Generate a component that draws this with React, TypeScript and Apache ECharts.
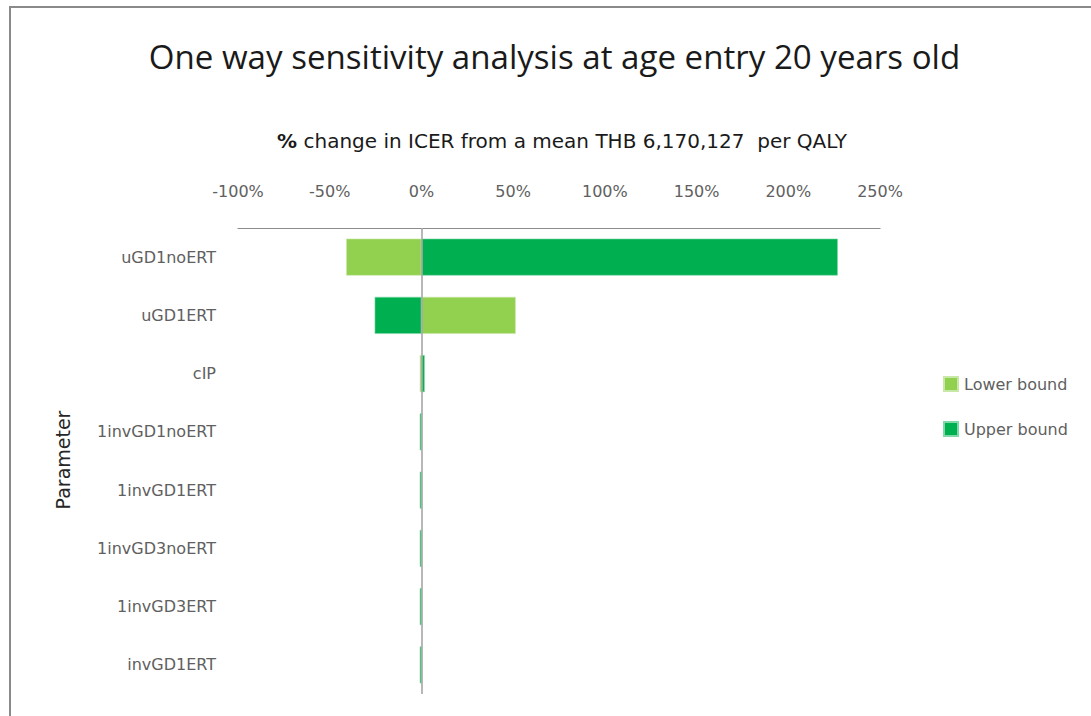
import React, { useEffect, useRef } from "react";
import * as echarts from "echarts";

// Parameters, top row first
const parameters = [
  "uGD1noERT",
  "uGD1ERT",
  "cIP",
  "1invGD1noERT",
  "1invGD1ERT",
  "1invGD3noERT",
  "1invGD3ERT",
  "invGD1ERT",
];

// % change in ICER at each parameter's bounds
const lowerBound = [-41, 51.4, -0.9, 0.3, 0.3, 0.3, 0.3, 0.3];
const upperBound = [227, -25.5, 1.8, -0.9, -0.9, -0.9, -0.9, -0.9];

const xTicks = { min: -100, max: 250, interval: 50 };

const TITLE_FONT = "'Open Sans', 'Noto Sans', sans-serif";
const FONT = "'DejaVu Sans', 'Noto Sans', sans-serif";
const LABEL_GREY = "#606060";

export default function App() {
  const ref = useRef<HTMLDivElement>(null);

  useEffect(() => {
    if (!ref.current) return;
    const chart = echarts.init(ref.current, null, { renderer: "svg" });
    chart.setOption({
      animation: false,
      backgroundColor: "#ffffff",
      title: [
        {
          text: "One way sensitivity analysis at age entry 20 years old",
          left: 549.5,
          top: 35,
          textAlign: "center",
          textStyle: { fontFamily: TITLE_FONT, fontSize: 33.1, fontWeight: "normal", color: "#1a1a1a" },
        },
        {
          text: "{b|%} change in ICER from a mean THB 6,170,127  per QALY",
          left: 557,
          top: 126,
          textAlign: "center",
          textStyle: {
            fontFamily: FONT,
            fontSize: 20,
            fontWeight: "normal",
            color: "#1a1a1a",
            rich: {
              b: { fontFamily: FONT, fontSize: 20, fontWeight: "bold", color: "#1a1a1a" },
            },
          },
        },
      ],
      graphic: [
        {
          type: "rect",
          shape: { x: 10, y: 7, width: 1300, height: 900 },
          style: { fill: "none", stroke: "#8a8a8a", lineWidth: 2 },
          silent: true,
        },
        {
          type: "text",
          x: 63,
          y: 460,
          rotation: Math.PI / 2,
          style: {
            text: "Parameter",
            fontFamily: FONT,
            fontSize: 19,
            fill: "#262626",
            align: "center",
            verticalAlign: "middle",
          },
        },
      ],
      legend: {
        orient: "vertical",
        left: 943,
        top: 376,
        padding: 0,
        itemWidth: 14,
        itemHeight: 14,
        itemGap: 29,
        icon: "rect",
        textStyle: { fontFamily: FONT, fontSize: 16, color: LABEL_GREY, padding: [0, 0, 0, 1] },
        data: ["Lower bound", "Upper bound"],
      },
      grid: { left: 238, right: 211, top: 228, height: 466 },
      xAxis: {
        type: "value",
        position: "top",
        min: xTicks.min,
        max: xTicks.max,
        interval: xTicks.interval,
        axisLine: { show: true, lineStyle: { color: "#8c8c8c", width: 1.2 } },
        axisTick: { show: false },
        splitLine: { show: false },
        axisLabel: {
          margin: 29,
          formatter: (v: number) => `${v}%`,
          fontFamily: FONT,
          fontSize: 16,
          color: LABEL_GREY,
        },
      },
      yAxis: {
        type: "category",
        inverse: true,
        data: parameters,
        axisLine: { show: false },
        axisTick: { show: false },
        axisLabel: { margin: 22, fontFamily: FONT, fontSize: 16, color: LABEL_GREY },
      },
      series: [
        {
          name: "Lower bound",
          type: "bar",
          data: lowerBound,
          barWidth: 37,
          barGap: "-100%",
          itemStyle: { color: "#92D050", borderColor: "#c8e8a8", borderWidth: 0.6 },
        },
        {
          name: "Upper bound",
          type: "bar",
          data: upperBound,
          barWidth: 37,
          barGap: "-100%",
          itemStyle: { color: "#00B050", borderColor: "#7fd8a8", borderWidth: 0.6 },
          markLine: {
            silent: true,
            symbol: "none",
            label: { show: false },
            lineStyle: { color: "#a6a6a6", width: 1.6, type: "solid" },
            data: [{ xAxis: 0 }],
          },
        },
      ],
    });
    return () => chart.dispose();
  }, []);

  return (
    <div
      ref={ref}
      style={{ position: "fixed", left: 0, top: 0, width: 1091, height: 716 }}
    />
  );
}
